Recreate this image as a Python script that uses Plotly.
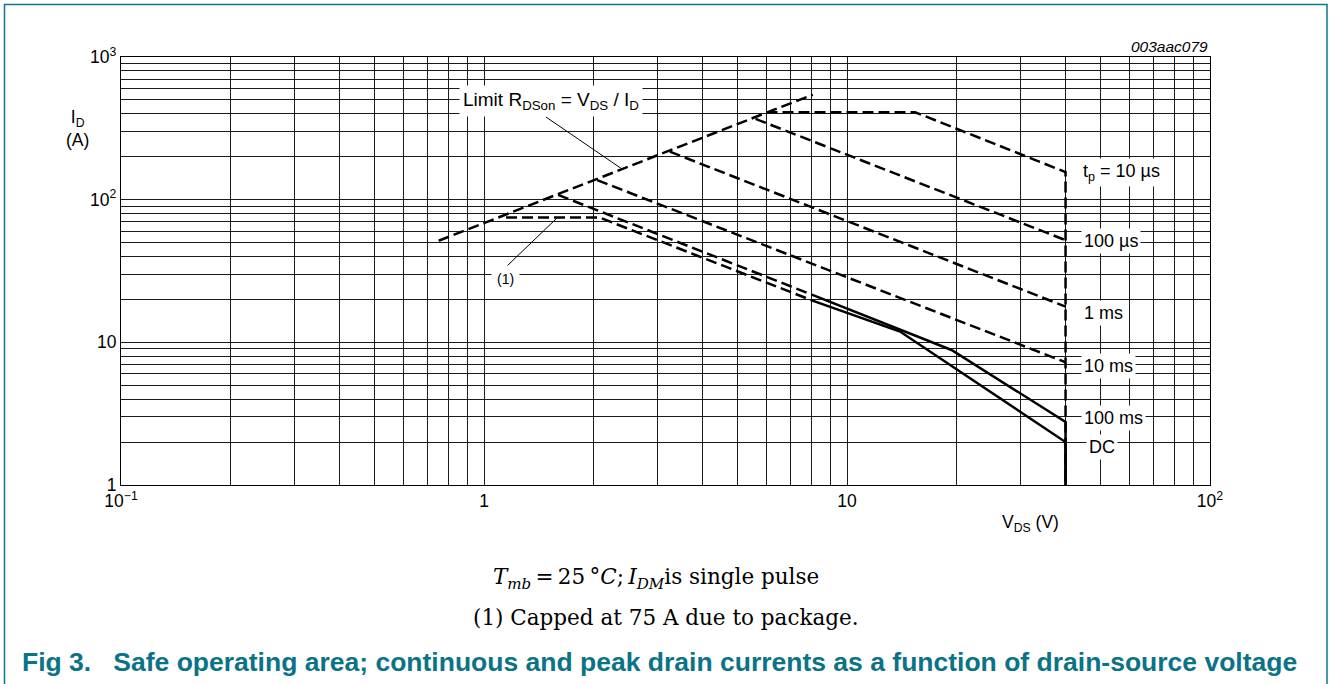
import plotly.graph_objects as go

# ---- data ----
rds_v = [0.75, 8.05]
rds_i = [51.5, 545]

tp10us_v = [6.0, 15.4, 40, 40]
tp10us_i = [410, 410, 156, 1]

tp100us_v = [5.6, 40]
tp100us_i = [368, 52]

tp1ms_v = [3.25, 40]
tp1ms_i = [217, 17.8]

tp10ms_v = [2.05, 40]
tp10ms_i = [137, 7.25]

tp100ms_dash_v = [1.6, 8.0]
tp100ms_dash_i = [108, 21.6]
tp100ms_solid_v = [8.0, 19.4, 40, 40]
tp100ms_solid_i = [21.6, 8.84, 2.77, 1]

dc_dash_v = [1.15, 2.08, 8.0]
dc_dash_i = [75, 75, 19.7]
dc_solid_v = [8.0, 14.0, 40, 40]
dc_solid_i = [19.7, 11.9, 2.0, 1]

x_tickvals = [0.1, 1, 10, 100]
x_ticktext = ["10<sup>\u22121</sup>", "1", "10", "10<sup>2</sup>"]
y_tickvals = [1, 10, 100, 1000]
y_ticktext = ["1", "10", "10<sup>2</sup>", "10<sup>3</sup>"]

curve_labels = ["t<sub>p</sub> = 10 \u00b5s", "100 \u00b5s", "1 ms", "10 ms", "100 ms", "DC"]

# ---- figure ----
W, H = 1331, 684
L, R, T, B = 121, 121, 57, 199
PW, PH = W - L - R, H - T - B

def px(xp):
    return (xp - L) / PW

def py(yp):
    return (H - B - yp) / PH

DASH = "11px,5px"
LW = 2.5
fig = go.Figure()

def add(v, i, dash):
    fig.add_trace(go.Scatter(x=v, y=i, mode="lines",
                             line=dict(color="black", width=LW, dash=dash),
                             showlegend=False, hoverinfo="skip"))

add(rds_v, rds_i, DASH)
add(tp10us_v, tp10us_i, DASH)
add(tp100us_v, tp100us_i, DASH)
add(tp1ms_v, tp1ms_i, DASH)
add(tp10ms_v, tp10ms_i, DASH)
add(tp100ms_dash_v, tp100ms_dash_i, DASH)
add(dc_dash_v, dc_dash_i, DASH)
add(tp100ms_solid_v, tp100ms_solid_i, "solid")
add(dc_solid_v, dc_solid_i, "solid")

minor_x = [m * 10 ** e for e in (-1, 0, 1) for m in range(2, 10)]
minor_y = [m * 10 ** e for e in (0, 1, 2) for m in range(2, 10)]

GRID = "#1a1a1a"
FONT = "Liberation Sans"

fig.update_xaxes(type="log", range=[-1, 2], tickvals=x_tickvals, ticktext=x_ticktext,
                 showgrid=True, gridcolor=GRID, gridwidth=1, zeroline=False,
                 showline=True, linecolor="black", linewidth=1.2, mirror=True,
                 ticks="", tickfont=dict(family=FONT, size=17.5, color="black"),
                 minor=dict(tickvals=minor_x, showgrid=True, gridcolor=GRID, gridwidth=1, ticks=""))
fig.update_yaxes(type="log", range=[0, 3], tickvals=y_tickvals, ticktext=y_ticktext,
                 showgrid=True, gridcolor=GRID, gridwidth=1, zeroline=False,
                 showline=True, linecolor="black", linewidth=1.2, mirror=True,
                 ticks="", tickfont=dict(family=FONT, size=17.5, color="black"),
                 minor=dict(tickvals=minor_y, showgrid=True, gridcolor=GRID, gridwidth=1, ticks=""))

def note(xp, yp, text, size, xanchor="center", family=FONT, bg=None, pad=1, color="black"):
    d = dict(xref="paper", yref="paper", x=px(xp), y=py(yp), text=text,
             xanchor=xanchor, yanchor="middle", showarrow=False, borderpad=pad,
             font=dict(family=family, size=size, color=color))
    if bg:
        d["bgcolor"] = bg
    return d

ann = []
ann.append(note(551, 101, "Limit R<sub>DSon</sub> = V<sub>DS</sub> / I<sub>D</sub>", 19, bg="white", pad=3))
ann.append(note(505, 279, "(1)", 14, bg="white", pad=5))
label_y = [172, 241, 313, 366, 418, 447]
label_x = [1080, 1081, 1081, 1081, 1081, 1086]
for t, xx, yy in zip(curve_labels, label_x, label_y):
    ann.append(note(xx, yy, t, 18, xanchor="left", bg="white", pad=2))
ann.append(note(77, 128, "I<sub>D</sub><br>(A)", 17.5))
ann.append(note(1030, 523, "V<sub>DS</sub> (V)", 17.5))
ann.append(note(1210, 46, "<i>003aac079</i>", 15.5, xanchor="right"))
SERIF = "DejaVu Serif"
ann.append(note(656, 578,
                "<i>T</i><sub><i>mb</i></sub>\u2009=\u200925\u2009\u00b0<i>C</i>;\u2009<i>I</i><sub><i>DM</i></sub>is single pulse",
                21.5, family=SERIF))
ann.append(note(666, 617, "(1) Capped at 75 A due to package.", 21.5, family=SERIF))
ann.append(note(20, 662,
                "<b>Fig 3.\u00a0\u00a0\u00a0Safe operating area; continuous and peak drain currents as a function of drain-source voltage</b>",
                26.5, xanchor="left", color="#0a7387"))

shapes = [
    dict(type="line", xref="paper", yref="paper", x0=px(546), y0=py(117), x1=px(622), y1=py(169),
         line=dict(color="black", width=1)),
    dict(type="line", xref="paper", yref="paper", x0=px(507), y0=py(266), x1=px(557), y1=py(218),
         line=dict(color="black", width=1)),
    dict(type="rect", xref="paper", yref="paper", x0=px(4.5), y0=py(4.5), x1=px(1327), y1=py(720),
         line=dict(color="#0a7a8a", width=1.5), layer="below"),
]

fig.update_layout(width=W, height=H, margin=dict(l=L, r=R, t=T, b=B),
                  plot_bgcolor="white", paper_bgcolor="white",
                  annotations=ann, shapes=shapes, showlegend=False)

fig.write_html("out.html", config={"displayModeBar": False},
               post_script="document.body.style.margin='0';")
